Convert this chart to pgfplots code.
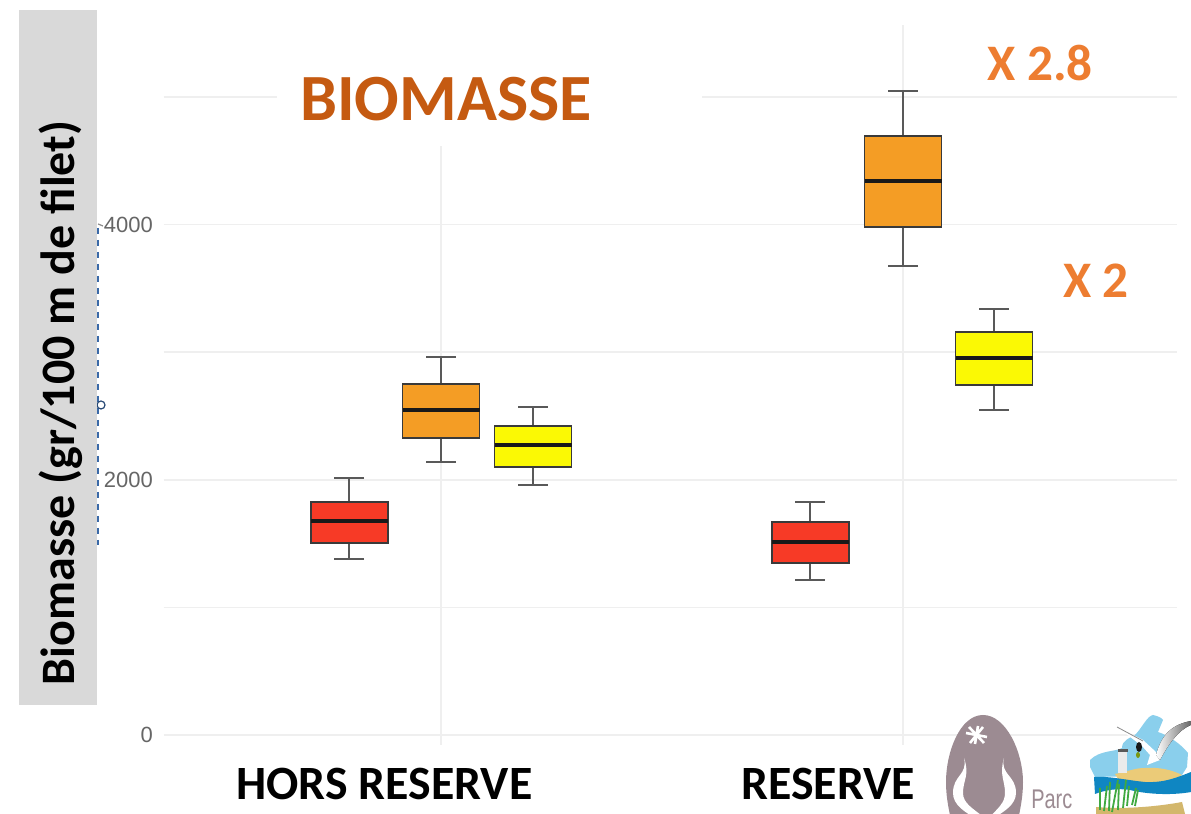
\documentclass[border=0pt]{standalone}
\usepackage{fontspec}
\setmainfont{Carlito}
\newfontfamily\arialf{Liberation Sans}
\usepackage{pgfplots}
\pgfplotsset{compat=1.18}
\usepgfplotslibrary{statistics}
\definecolor{cred}{HTML}{F73A26}
\definecolor{corange}{HTML}{F49D25}
\definecolor{cyellow}{HTML}{FBF904}
\definecolor{cgrid}{HTML}{EFEFEF}
\definecolor{cline}{HTML}{3A3A3A}
\definecolor{cmauve}{HTML}{9C8B92}
\definecolor{cblue}{HTML}{0F86C2}
\definecolor{csky}{HTML}{8ACFEC}
\definecolor{csand}{HTML}{EBCB78}
\definecolor{cdash}{HTML}{3B6AA8}
\definecolor{ctitle}{HTML}{C55A11}
\definecolor{cfactor}{HTML}{ED7D31}
\pgfplotsset{
  bx/.style n args={6}{
    boxplot prepared={draw position=#1, box extend=0.1667, whisker extend=0.065,
      lower whisker=#2, lower quartile=#3, median=#4, upper quartile=#5, upper whisker=#6},
    solid},
  boxplot/every box/.style={draw=cline,line width=0.8pt},
  boxplot/every whisker/.style={draw=black!65,line width=0.8pt},
  boxplot/every median/.style={draw=black!90,line width=1.7pt}
}
\begin{document}
\begin{tikzpicture}
\clip (0,0) rectangle (595.5pt,407pt);
\fill[white] (0,0) rectangle (595.5pt,407pt);
\begin{axis}[
  at={(82pt,34.5pt)},anchor=south west,
  scale only axis,width=506.5pt,height=360pt,
  xmin=0.4,xmax=2.593,ymin=-78,ymax=5564,
  boxplot/draw direction=y,
  axis line style={draw=none},major tick length=0pt,minor tick length=0pt,
  ymajorgrids,yminorgrids,
  ytick={0,2000,4000},minor ytick={1000,3000,5000},
  grid style={cgrid,line width=0.8pt},
  minor grid style={cgrid,line width=0.8pt},
  xtick={0.877,1.838},xticklabels={HORS RESERVE,RESERVE},
  extra x ticks={1,2},extra x tick labels={},
  extra x tick style={xmajorgrids=true,grid style={cgrid,line width=0.8pt}},
  /pgf/number format/assume math mode=true,
  /pgf/number format/1000 sep={},
  yticklabel style={font=\arialf\fontsize{11}{13}\selectfont,text=black!60,xshift=-2pt},
  xticklabel style={font=\bfseries\fontsize{23.9}{28}\selectfont,text=black,yshift=-8pt},
  clip=false
]
\addplot[bx={0.801}{1379}{1505}{1677}{1826}{2014},fill=cred] coordinates {};
\addplot[bx={1.000}{2139}{2328}{2547}{2751}{2962},fill=corange] coordinates {};
\addplot[bx={1.199}{1959}{2100}{2273}{2422}{2571},fill=cyellow] coordinates {};
\addplot[bx={1.799}{1215}{1348}{1513}{1669}{1826},fill=cred] coordinates {};
\addplot[bx={2.000}{3675}{3981}{4342}{4694}{5047},fill=corange] coordinates {};
\addplot[bx={2.197}{2547}{2743}{2955}{3158}{3339},fill=cyellow] coordinates {};
\end{axis}
\begin{scope}[x=0.5pt,y=-0.5pt,yshift=407pt]
  % title patch over the grid
  \fill[white] (277,24) rectangle (702,146);
  \node[font=\bfseries\fontsize{33}{38}\selectfont,text=ctitle] at (446,99) {BIOMASSE};
  \node[font=\bfseries\fontsize{25.6}{30}\selectfont,text=cfactor] at (1040,63) {X 2.8};
  \node[font=\bfseries\fontsize{25.6}{30}\selectfont,text=cfactor] at (1096,281) {X 2};
  % grey band and its label
  \draw[cdash,line width=0.7pt,dash pattern=on 3pt off 3pt] (98,228) -- (98,545);
  \draw[black!45,line width=0.6pt] (98,224) -- (103,226);
  \draw[cdash!70!black,line width=0.6pt] (101,405) circle (2pt);
  \fill[black!15] (19,10) rectangle (97,705);
  \node[rotate=90,font=\bfseries\fontsize{24}{28}\selectfont,text=black] at (61,403) {Biomasse (gr/100 m de filet)};
  % park logo
  \fill[cmauve] (983,715) .. controls (1006,715) and (1023,752) .. (1023,782) .. controls (1023,795) and (1021,806) .. (1018,820)
     -- (951,820) .. controls (948,806) and (946,795) .. (946,782) .. controls (946,752) and (960,715) .. (983,715) -- cycle;
  \draw[white,line width=1.3pt] (966,733) -- (987,737) (970,743) -- (983,727) (969,727) -- (984,743) (978,726) -- (975,744);
  \fill[white] (964,758) .. controls (968,775) and (953,775) .. (953,793) .. controls (953,805) and (965,812) .. (975,818)
     -- (985,818) .. controls (972,808) and (963,803) .. (963,793) .. controls (963,780) and (970,775) .. (964,758) -- cycle;
  \fill[white] (1004,758) .. controls (1000,775) and (1016,775) .. (1016,793) .. controls (1016,805) and (1003,812) .. (994,818)
     -- (989,818) .. controls (998,808) and (1005,803) .. (1005,793) .. controls (1005,780) and (999,775) .. (1004,758) -- cycle;
  \node[anchor=base west,font=\arialf\fontsize{13.5}{14}\selectfont,text=cmauve,xscale=0.74,inner sep=0pt] at (1031,809) {Parc};
  % coastal logo: sky
  \fill[csky] (1090,760) .. controls (1100,750) and (1115,752) .. (1122,748) .. controls (1122,740) and (1130,738) .. (1135,735)
     .. controls (1142,728) and (1147,716) .. (1153,715) .. controls (1158,716) and (1162,718) .. (1163,720)
     -- (1158,732) .. controls (1168,735) and (1182,745) .. (1188,753) -- (1187,767) -- (1182,775) -- (1095,777) -- (1090,767) -- cycle;
  % dune
  \fill[csand] (1115,774) .. controls (1130,771) and (1135,768) .. (1145,768) .. controls (1160,767) and (1172,770) .. (1182,775) -- (1170,782) -- (1120,782) -- cycle;
  % lighthouse
  \fill[black!8] (1118,752) rectangle (1127,773);
  \fill[black!65] (1118,749) rectangle (1128,752);
  % water
  \fill[cblue] (1094,777) .. controls (1110,776) and (1125,780) .. (1145,782) .. controls (1165,783) and (1178,777) .. (1191,772)
     -- (1191,792) .. controls (1175,795) and (1150,795) .. (1130,790) .. controls (1118,788) and (1105,790) .. (1095,794) -- cycle;
  % sand
  \fill[csand!90!black] (1096,807) .. controls (1115,809) and (1150,808) .. (1182,802) -- (1185,814) -- (1096,814) -- cycle;
  % reeds
  \draw[green!55!black!75,line width=0.9pt]
    (1100,810)--(1100,788) (1104,811)--(1107,786) (1109,811)--(1110,782) (1112,812)--(1118,780) (1118,810)--(1119,784)
    (1123,808)--(1126,780) (1127,806)--(1129,786) (1132,805)--(1136,788) (1135,806)--(1138,790);
  % bird
  \fill[white] (1117,727) -- (1143,740) -- (1156,752) -- (1160,760) -- (1147,765) -- (1150,755) -- (1142,746) -- cycle;
  \draw[black!45,line width=0.4pt] (1117,727) -- (1143,741);
  \fill[left color=white,right color=black!60] (1156,755) .. controls (1160,740) and (1168,725) .. (1191,721) -- (1191,725)
     .. controls (1178,730) and (1168,745) .. (1160,760) -- cycle;
  \fill[black!90] (1139,747) ellipse [x radius=3,y radius=5];
  \fill[olive!70!green] (1138,755) ellipse [x radius=2,y radius=3];
\end{scope}
\end{tikzpicture}
\end{document}
